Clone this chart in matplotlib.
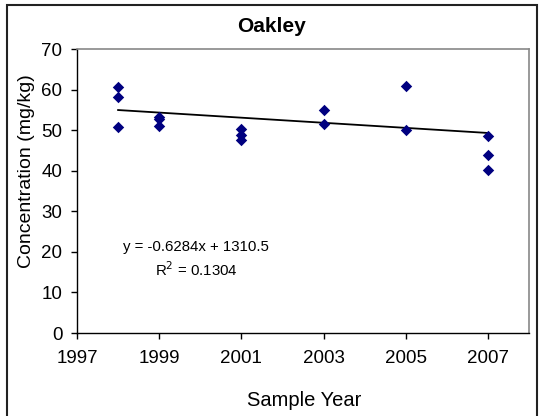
import matplotlib
matplotlib.use("Agg")
import matplotlib.pyplot as plt
from matplotlib.patches import Rectangle
import numpy as np

plt.rcParams['font.family'] = ['Liberation Sans', 'DejaVu Sans']

years = [1998, 1998, 1998, 1999, 1999, 1999, 2001, 2001, 2001,
         2003, 2003, 2005, 2005, 2007, 2007, 2007]
conc = [60.6, 58.2, 50.8, 53.2, 52.8, 50.9, 50.2, 48.8, 47.5,
        55.0, 51.4, 61.0, 50.0, 48.5, 43.8, 40.2]
slope = -0.6284
intercept = 1310.5
r2 = 0.1304
trend_x = [1998, 2007]
xticks = [1997, 1999, 2001, 2003, 2005, 2007]
yticks = [0, 10, 20, 30, 40, 50, 60, 70]

W, H = 544, 416
fig = plt.figure(figsize=(W / 100, H / 100), dpi=100)
fig.patches.append(Rectangle((7 / W, -0.01), (537 - 7) / W, 1.01 - 5 / H,
                             transform=fig.transFigure, fill=False,
                             edgecolor='#222222', linewidth=1.5))

ax = fig.add_axes([77 / W, 1 - 333 / H, (529 - 77) / W, (333 - 49) / H])
ax.scatter(years, conc, marker='D', s=34, color='#000080', zorder=3, linewidths=0)
tx = np.array(trend_x, dtype=float)
ax.plot(tx, slope * tx + intercept, color='black', linewidth=1.3, zorder=2)

ax.set_xlim(1997, 2008)
ax.set_ylim(0, 70)
ax.set_xticks(xticks)
ax.set_yticks(yticks)
ax.tick_params(axis='both', direction='out', length=4.5, width=1, labelsize=13.5)
ax.tick_params(axis='x', pad=8)
ax.tick_params(axis='y', pad=6)
for s in ['top', 'right']:
    ax.spines[s].set_color('#888888')
    ax.spines[s].set_linewidth(1.2)
for s in ['left', 'bottom']:
    ax.spines[s].set_color('black')
    ax.spines[s].set_linewidth(1)

fig.text(272 / W, 1 - 27 / H, 'Oakley', fontsize=15, fontweight='bold',
         ha='center', va='center')
fig.text(304 / W, 1 - 401 / H, 'Sample Year', fontsize=14.5,
         ha='center', va='center')
fig.text(27 / W, 1 - 171 / H, 'Concentration (mg/kg)', fontsize=14,
         ha='center', va='center', rotation=90)

fig.text(196 / W, 1 - 247 / H, 'y = %.4fx + %.1f' % (slope, intercept),
         ha='center', va='center', fontsize=10.8)
fig.text(196 / W, 1 - 270 / H, 'R$^2$ = %.4f' % r2,
         ha='center', va='center', fontsize=10.8)

fig.savefig('out.png', dpi=100)
